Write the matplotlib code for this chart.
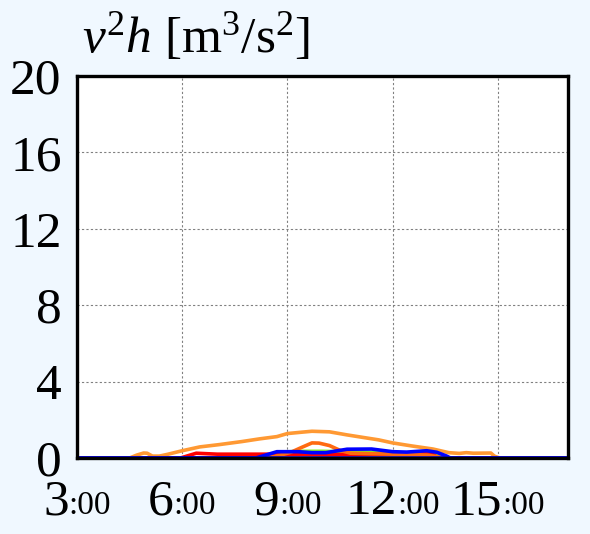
import matplotlib
matplotlib.use("Agg")
import matplotlib.pyplot as plt
from matplotlib.offsetbox import TextArea, HPacker, AnnotationBbox

plt.rcParams['font.family'] = ['Liberation Serif', 'DejaVu Serif']
plt.rcParams['mathtext.fontset'] = 'custom'
plt.rcParams['mathtext.rm'] = 'Liberation Serif'
plt.rcParams['mathtext.it'] = 'Liberation Serif:italic'

# ---- data ----
title_text = r"$v^2h$ [m$^3$/s$^2$]"
x_ticks = [3, 6, 9, 12, 15]
x_tick_labels = ["3:00", "6:00", "9:00", "12:00", "15:00"]
y_ticks = [0, 4, 8, 12, 16, 20]
y_tick_labels = ["0", "4", "8", "12", "16", "20"]

orange_h = [3, 4.5, 4.7, 4.9, 5.0, 5.15, 5.35, 5.6, 6.0, 6.5, 7.05, 7.7, 8.2, 8.7, 9.0,
            9.4, 9.7, 10.2, 10.7, 11.25, 11.6, 12.0, 12.55, 13.15, 13.6, 13.9, 14.1,
            14.3, 14.8, 14.9, 15.05, 17]
orange_v = [0, 0, 0.15, 0.26, 0.25, 0.1, 0.1, 0.2, 0.38, 0.58, 0.7, 0.86, 1.0, 1.12, 1.28,
            1.35, 1.4, 1.37, 1.21, 1.05, 0.95, 0.79, 0.63, 0.47, 0.28, 0.24, 0.28,
            0.25, 0.26, 0.1, 0, 0]

bump_h = [3, 8.4, 8.8, 9.1, 9.4, 9.7, 9.9, 10.2, 10.5, 10.8, 12.0, 13.0, 13.5, 17]
bump_v = [0, 0, 0.15, 0.3, 0.55, 0.79, 0.78, 0.65, 0.4, 0.25, 0.2, 0.15, 0, 0]

red_h = [3, 5.95, 6.4, 7.0, 8.1, 9.0, 10.0, 11.0, 12.0, 12.6, 12.95, 13.1, 13.3, 17]
red_v = [0, 0, 0.25, 0.2, 0.2, 0.2, 0.2, 0.18, 0.2, 0.22, 0.3, 0.25, 0, 0]

blue_h = [3, 8.1, 8.7, 9.3, 9.7, 10.1, 10.7, 11.4, 12.0, 12.4, 12.97, 13.26, 13.54, 13.65, 17]
blue_v = [0, 0, 0.33, 0.33, 0.28, 0.28, 0.46, 0.47, 0.33, 0.31, 0.38, 0.3, 0.1, 0, 0]

green_h = [3, 8.3, 8.8, 9.3, 10.0, 10.6, 11.2, 12.0, 12.8, 13.3, 13.6, 17]
green_v = [0, 0, 0.3, 0.35, 0.35, 0.33, 0.3, 0.28, 0.22, 0.15, 0, 0]

yellow_h = [3, 8.3, 8.8, 10.0, 11.0, 12.0, 13.0, 13.5, 17]
yellow_v = [0, 0, 0.2, 0.24, 0.22, 0.2, 0.15, 0, 0]

ltorange_h = [3, 8.3, 8.8, 10.0, 11.0, 12.0, 13.0, 13.5, 17]
ltorange_v = [0, 0, 0.13, 0.16, 0.15, 0.13, 0.1, 0, 0]

dkred_h = [3, 8.3, 8.8, 10.0, 11.0, 12.0, 13.0, 13.5, 17]
dkred_v = [0, 0, 0.08, 0.1, 0.1, 0.09, 0.07, 0, 0]

cyan_h = [3, 8.3, 8.8, 10.0, 12.0, 13.0, 13.5, 17]
cyan_v = [0, 0, 0.03, 0.04, 0.04, 0.03, 0, 0]

base_h = [3, 17]
base_v = [0, 0]

# ---- figure ----
W, H = 590, 534
fig = plt.figure(figsize=(W / 100, H / 100), dpi=100, facecolor='#F0F8FF')
ax = fig.add_axes([77 / W, 1 - 458 / H, 491 / W, 382 / H])
ax.set_facecolor('white')

lw = 2.6
ax.plot(cyan_h, cyan_v, color='#00B8C8', lw=lw)
ax.plot(dkred_h, dkred_v, color='#FF2000', lw=lw)
ax.plot(ltorange_h, ltorange_v, color='#FF9900', lw=lw)
ax.plot(yellow_h, yellow_v, color='#FFD000', lw=lw)
ax.plot(green_h, green_v, color='#88EE22', lw=lw)
ax.plot(red_h, red_v, color='#FF0000', lw=lw)
ax.plot(bump_h, bump_v, color='#FF6A10', lw=lw)
ax.plot(orange_h, orange_v, color='#FF9933', lw=lw)
ax.plot(blue_h, blue_v, color='#0000FF', lw=lw)
ax.plot(base_h, base_v, color='#0000CC', lw=lw)

ax.set_xlim(3, 17)
ax.set_ylim(0, 20)
ax.set_yticks(y_ticks)
ax.set_yticklabels(y_tick_labels, fontsize=37)
ax.set_xticks(x_ticks)
ax.set_xticklabels([])
ax.tick_params(axis='both', length=0)
ax.tick_params(axis='y', pad=11)
for lab in ax.get_yticklabels():
    lab.set_verticalalignment('center_baseline')
ax.grid(True, color='#808080', lw=0.8, ls=(0, (2, 2)))

for s in ax.spines.values():
    s.set_linewidth(2.4)
    s.set_color('black')

for t, lab in zip(x_ticks, x_tick_labels):
    big, small = lab.split(':')
    ta1 = TextArea(big, textprops=dict(fontsize=37))
    ta2 = TextArea(':' + small, textprops=dict(fontsize=24))
    pack = HPacker(children=[ta1, ta2], align='baseline', pad=0, sep=0)
    ab = AnnotationBbox(pack, (t, 0), xycoords=('data', 'axes fraction'),
                        box_alignment=(0.5, 1), xybox=(0, -15),
                        boxcoords='offset points', frameon=False,
                        annotation_clip=False)
    ax.add_artist(ab)

fig.text(82 / W, 1 - 52 / H, title_text, fontsize=37, ha='left', va='baseline')

fig.savefig('out.png', dpi=100, facecolor=fig.get_facecolor())
